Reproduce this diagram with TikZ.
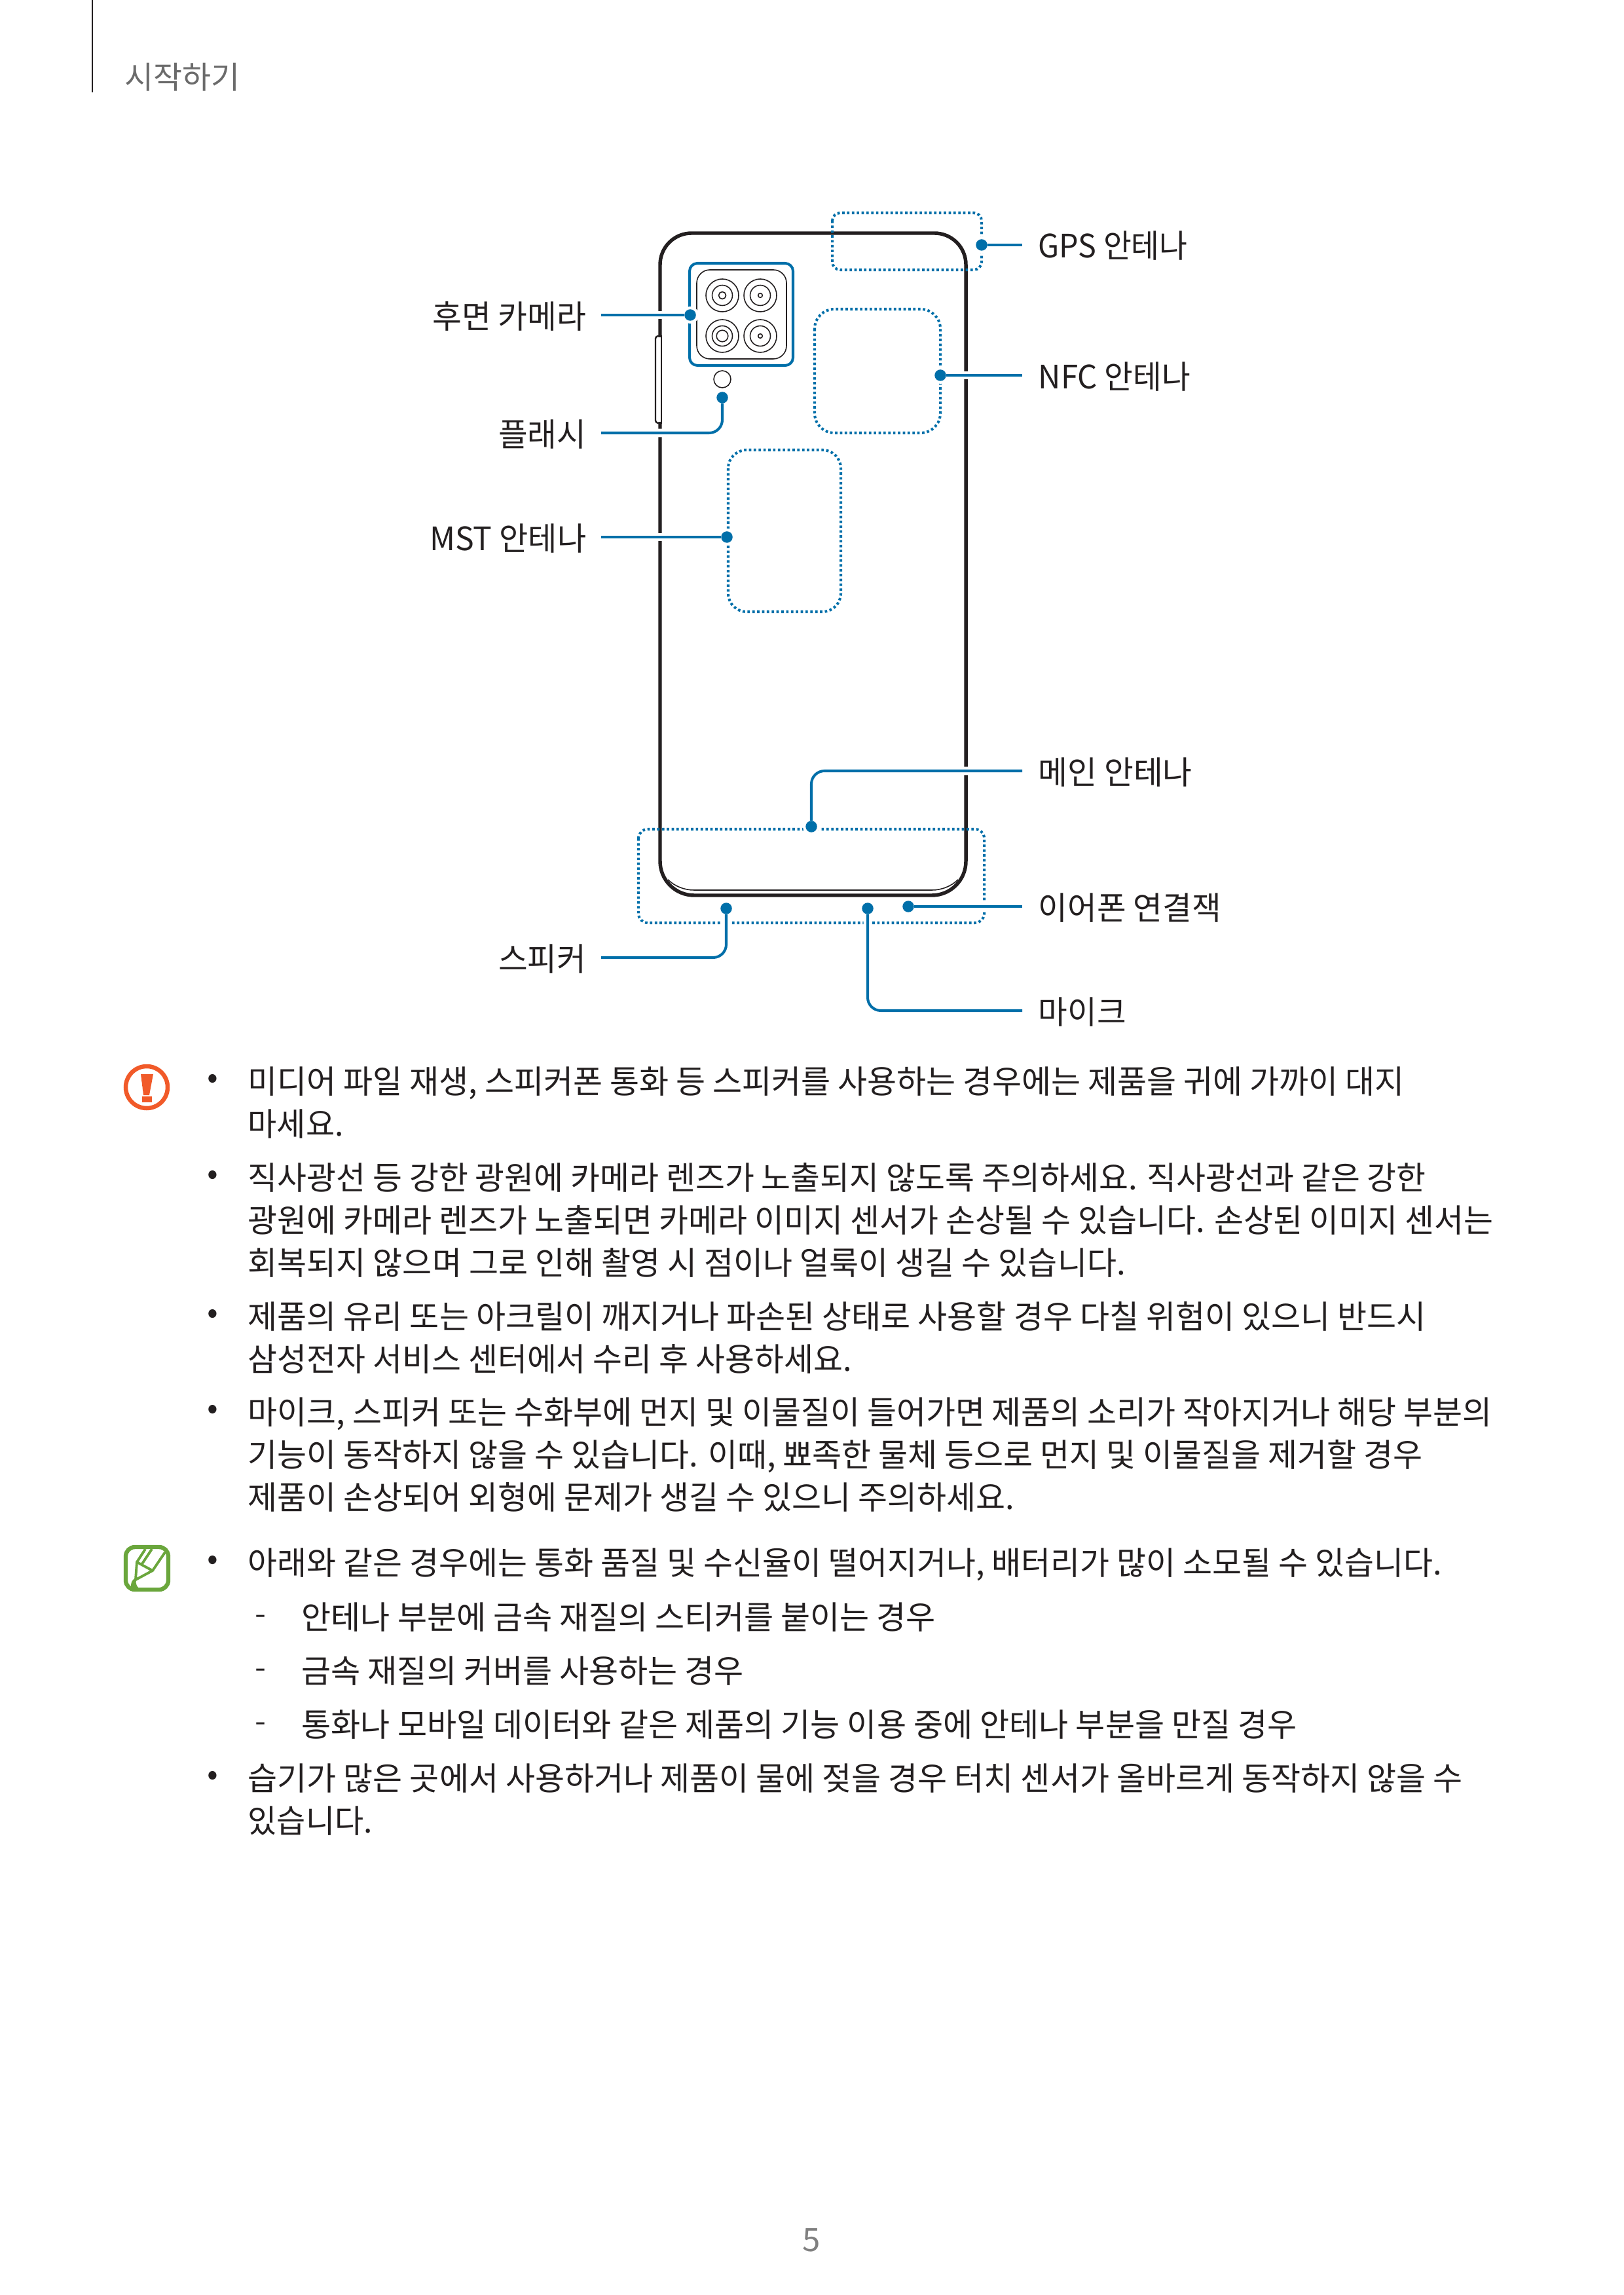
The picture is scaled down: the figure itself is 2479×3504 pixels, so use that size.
\documentclass[tikz,border=0pt]{standalone}
\usepackage{fontspec}
\usepackage{graphicx}
\setmainfont{Noto Sans CJK KR}
\usetikzlibrary{calc}
\newlength\pxu
\setlength\pxu{0.01cm}
\newcommand{\fitw}[2]{\resizebox{#1\pxu}{\height}{#2}}
\definecolor{leadblue}{HTML}{006FA9}
\definecolor{bodyblack}{HTML}{231F20}
\definecolor{warnorange}{HTML}{F15A29}
\definecolor{notegreen}{HTML}{6AA63C}
\tikzset{
  body/.style={anchor=base west, inner sep=0pt, text=bodyblack, font=\fontsize{14}{18}\selectfont},
  lbl/.style={inner ysep=0pt, text height=0.42cm, text depth=0.02cm, text=bodyblack, font=\fontsize{14}{18}\selectfont},
  lblleft/.style={lbl, anchor=east, inner xsep=0.22cm},
  lblright/.style={lbl, anchor=west, inner xsep=0.24cm},
  tick/.style={anchor=center, inner sep=0pt, text=bodyblack, font=\fontsize{14}{18}\selectfont},
  leaddot/.style={circle, fill=leadblue, minimum size=0.175cm, inner sep=0pt, outer sep=0pt,
    preaction={draw=white, line width=2.4pt}},
  lead/.style={draw=leadblue, line width=1.15pt, rounded corners=0.2cm,
    preaction={draw=white, line width=3.6pt}},
  antenna/.style={draw=leadblue, line width=1.15pt, dash pattern=on 1.05pt off 1.05pt},
  lens/.style={draw=bodyblack, line width=0.45pt},
  shell/.style={draw=bodyblack, line width=1.55pt}
}
\begin{document}
\begin{tikzpicture}[x=0.01cm, y=-0.01cm]
  \useasboundingbox (0,0) rectangle (2479,3504);

  % header
  \draw[draw=bodyblack, line width=0.6pt] (141,0)--(141,141);
  \node[anchor=base west, inner sep=0pt, text=black!58, font=\fontsize{13.5}{18}\selectfont] (head) at (190,136) {\fitw{176}{시작하기}};

  % phone
  \draw[shell] (1008,1300) -- (1008,404) arc[start angle=180, end angle=270, radius=48] -- (1427,356) arc[start angle=270, end angle=360, radius=48] -- (1475,1315) arc[start angle=0, end angle=90, radius=52] -- (1060,1367) arc[start angle=90, end angle=180, radius=52] -- cycle;
  \draw[draw=bodyblack, line width=0.45pt] (1020,1343) .. controls (1030,1353) and (1045,1359) .. (1060,1359) -- (1423,1359) .. controls (1438,1359) and (1453,1353) .. (1463,1343);

  % side key
  \fill[white] (1002,515) rectangle (1009,644);
  \draw[draw=bodyblack, line width=0.7pt, rounded corners=0.03cm] (1010,512) -- (1001,514) -- (1001,645) -- (1010,647);
  \draw[draw=bodyblack, line width=0.55pt] (1010,512) -- (1010,647);

  % camera
  \draw[draw=leadblue, line width=1.15pt, rounded corners=0.12cm] (1053,402) rectangle (1211,558);
  \draw[lens, rounded corners=0.2cm] (1064,412) rectangle (1201,548);
  \foreach \cx/\cy/\rin in {1103/451/5.5, 1161/451/3.3, 1103/513/8.8, 1161/513/3.3} {
    \draw[lens] (\cx,\cy) circle[radius=25];
    \draw[lens] (\cx,\cy) circle[radius=15.5];
    \draw[lens] (\cx,\cy) circle[radius=\rin];
  }
  \draw[lens] (1103,579) circle[radius=13];

  % antennas
  \draw[antenna, rounded corners=0.12cm] (1271,325) rectangle (1499,412);
  \draw[antenna, rounded corners=0.3cm] (1244,472) rectangle (1436,661);
  \draw[antenna, rounded corners=0.28cm] (1112,687) rectangle (1284,934);
  \draw[antenna, rounded corners=0.14cm] (975,1266) rectangle (1503,1409);

  % labels
  \node[lblleft] (lblcam) at (918,481) {\fitw{235}{후면 카메라}};
  \node[lblleft] (lblflash) at (918,661) {\fitw{134}{플래시}};
  \node[lblleft] (lblmst) at (918,820) {\fitw{239}{MST 안테나}};
  \node[lblleft] (lblspk) at (918,1462) {\fitw{134}{스피커}};
  \node[lblright] (lblgps) at (1561,374) {\fitw{228}{GPS 안테나}};
  \node[lblright] (lblnfc) at (1561,573) {\fitw{232}{NFC 안테나}};
  \node[lblright] (lblmain) at (1561,1177) {\fitw{235}{메인 안테나}};
  \node[lblright] (lblear) at (1561,1384) {\fitw{279}{이어폰 연결잭}};
  \node[lblright] (lblmic) at (1561,1543) {\fitw{134}{마이크}};

  % connectors
  \node[leaddot] (dotcam) at (1054,481) {};
  \node[leaddot] (dotflash) at (1103,607) {};
  \node[leaddot] (dotmst) at (1110,820) {};
  \node[leaddot] (dotgps) at (1499,374) {};
  \node[leaddot] (dotnfc) at (1436,573) {};
  \node[leaddot] (dotmain) at (1239,1262) {};
  \node[leaddot] (dotspk) at (1109,1387) {};
  \node[leaddot] (dotear) at (1387,1384) {};
  \node[leaddot] (dotmic) at (1325,1387) {};

  \draw[lead] (dotcam) -- (lblcam);
  \draw[lead] (dotflash) |- (lblflash);
  \draw[lead] (dotmst) -- (lblmst);
  \draw[lead] (dotgps) -- (lblgps);
  \draw[lead] (dotnfc) -- (lblnfc);
  \draw[lead] (dotmain) |- (lblmain);
  \draw[lead] (dotspk) |- (lblspk);
  \draw[lead] (dotear) -- (lblear);
  \draw[lead] (dotmic) |- (lblmic);

  % warning icon
  \draw[draw=warnorange, line width=1.85pt] (224,1660) circle[radius=32];
  \fill[warnorange] (215,1640) -- (234,1640) -- (228,1672) -- (219,1672) -- cycle;
  \fill[warnorange] (217,1674) rectangle (232,1683);

  % note icon
  \draw[draw=notegreen, line width=1.8pt, rounded corners=0.14cm] (192,2362) rectangle (257,2427);
  \draw[draw=notegreen, line width=1.1pt] (222,2365) -- (209,2385) -- (207,2412) -- (233,2398) -- (252,2370);
  \draw[draw=notegreen, line width=1.1pt] (232,2365) -- (216,2389);
  \draw[draw=notegreen, line width=1.1pt] (209,2385) -- (233,2398);
  \fill[notegreen] (200,2420) .. controls (201,2411) and (206,2409) .. (212,2408) .. controls (206,2413) and (206,2418) .. (212,2425) -- (200,2425) -- cycle;

  % text
  \node[tick] (b1) at (325,1651) {•};
  \node[body] (t1) at (378,1669) {\fitw{1766}{미디어 파일 재생, 스피커폰 통화 등 스피커를 사용하는 경우에는 제품을 귀에 가까이 대지}};
  \node[body] (t2) at (378,1734) {\fitw{146}{마세요.}};
  \node[tick] (b2) at (325,1798) {•};
  \node[body] (t3) at (378,1816) {\fitw{1799}{직사광선 등 강한 광원에 카메라 렌즈가 노출되지 않도록 주의하세요. 직사광선과 같은 강한}};
  \node[body] (t4) at (378,1881) {\fitw{1902}{광원에 카메라 렌즈가 노출되면 카메라 이미지 센서가 손상될 수 있습니다. 손상된 이미지 센서는}};
  \node[body] (t5) at (378,1946) {\fitw{1340}{회복되지 않으며 그로 인해 촬영 시 점이나 얼룩이 생길 수 있습니다.}};
  \node[tick] (b3) at (325,2010) {•};
  \node[body] (t6) at (378,2028) {\fitw{1799}{제품의 유리 또는 아크릴이 깨지거나 파손된 상태로 사용할 경우 다칠 위험이 있으니 반드시}};
  \node[body] (t7) at (378,2093) {\fitw{922}{삼성전자 서비스 센터에서 수리 후 사용하세요.}};
  \node[tick] (b4) at (325,2156) {•};
  \node[body] (t8) at (378,2174) {\fitw{1900}{마이크, 스피커 또는 수화부에 먼지 및 이물질이 들어가면 제품의 소리가 작아지거나 해당 부분의}};
  \node[body] (t9) at (378,2239) {\fitw{1794}{기능이 동작하지 않을 수 있습니다. 이때, 뾰족한 물체 등으로 먼지 및 이물질을 제거할 경우}};
  \node[body] (t10) at (378,2304) {\fitw{1170}{제품이 손상되어 외형에 문제가 생길 수 있으니 주의하세요.}};
  \node[tick] (b5) at (325,2386) {•};
  \node[body] (t11) at (378,2404) {\fitw{1823}{아래와 같은 경우에는 통화 품질 및 수신율이 떨어지거나, 배터리가 많이 소모될 수 있습니다.}};
  \node[tick] (d1) at (398,2474) {\fitw{15}{–}};
  \node[body] (t12) at (460,2487) {\fitw{968}{안테나 부분에 금속 재질의 스티커를 붙이는 경우}};
  \node[tick] (d2) at (398,2556) {\fitw{15}{–}};
  \node[body] (t13) at (460,2569) {\fitw{675}{금속 재질의 커버를 사용하는 경우}};
  \node[tick] (d3) at (398,2638) {\fitw{15}{–}};
  \node[body] (t14) at (460,2651) {\fitw{1520}{통화나 모바일 데이터와 같은 제품의 기능 이용 중에 안테나 부분을 만질 경우}};
  \node[tick] (b6) at (325,2715) {•};
  \node[body] (t15) at (378,2733) {\fitw{1855}{습기가 많은 곳에서 사용하거나 제품이 물에 젖을 경우 터치 센서가 올바르게 동작하지 않을 수}};
  \node[body] (t16) at (378,2798) {\fitw{190}{있습니다.}};

  \node[anchor=center, inner sep=0pt, text=black!50, font=\fontsize{14}{18}\selectfont] (pageno) at (1239,3420) {5};
\end{tikzpicture}
\end{document}
